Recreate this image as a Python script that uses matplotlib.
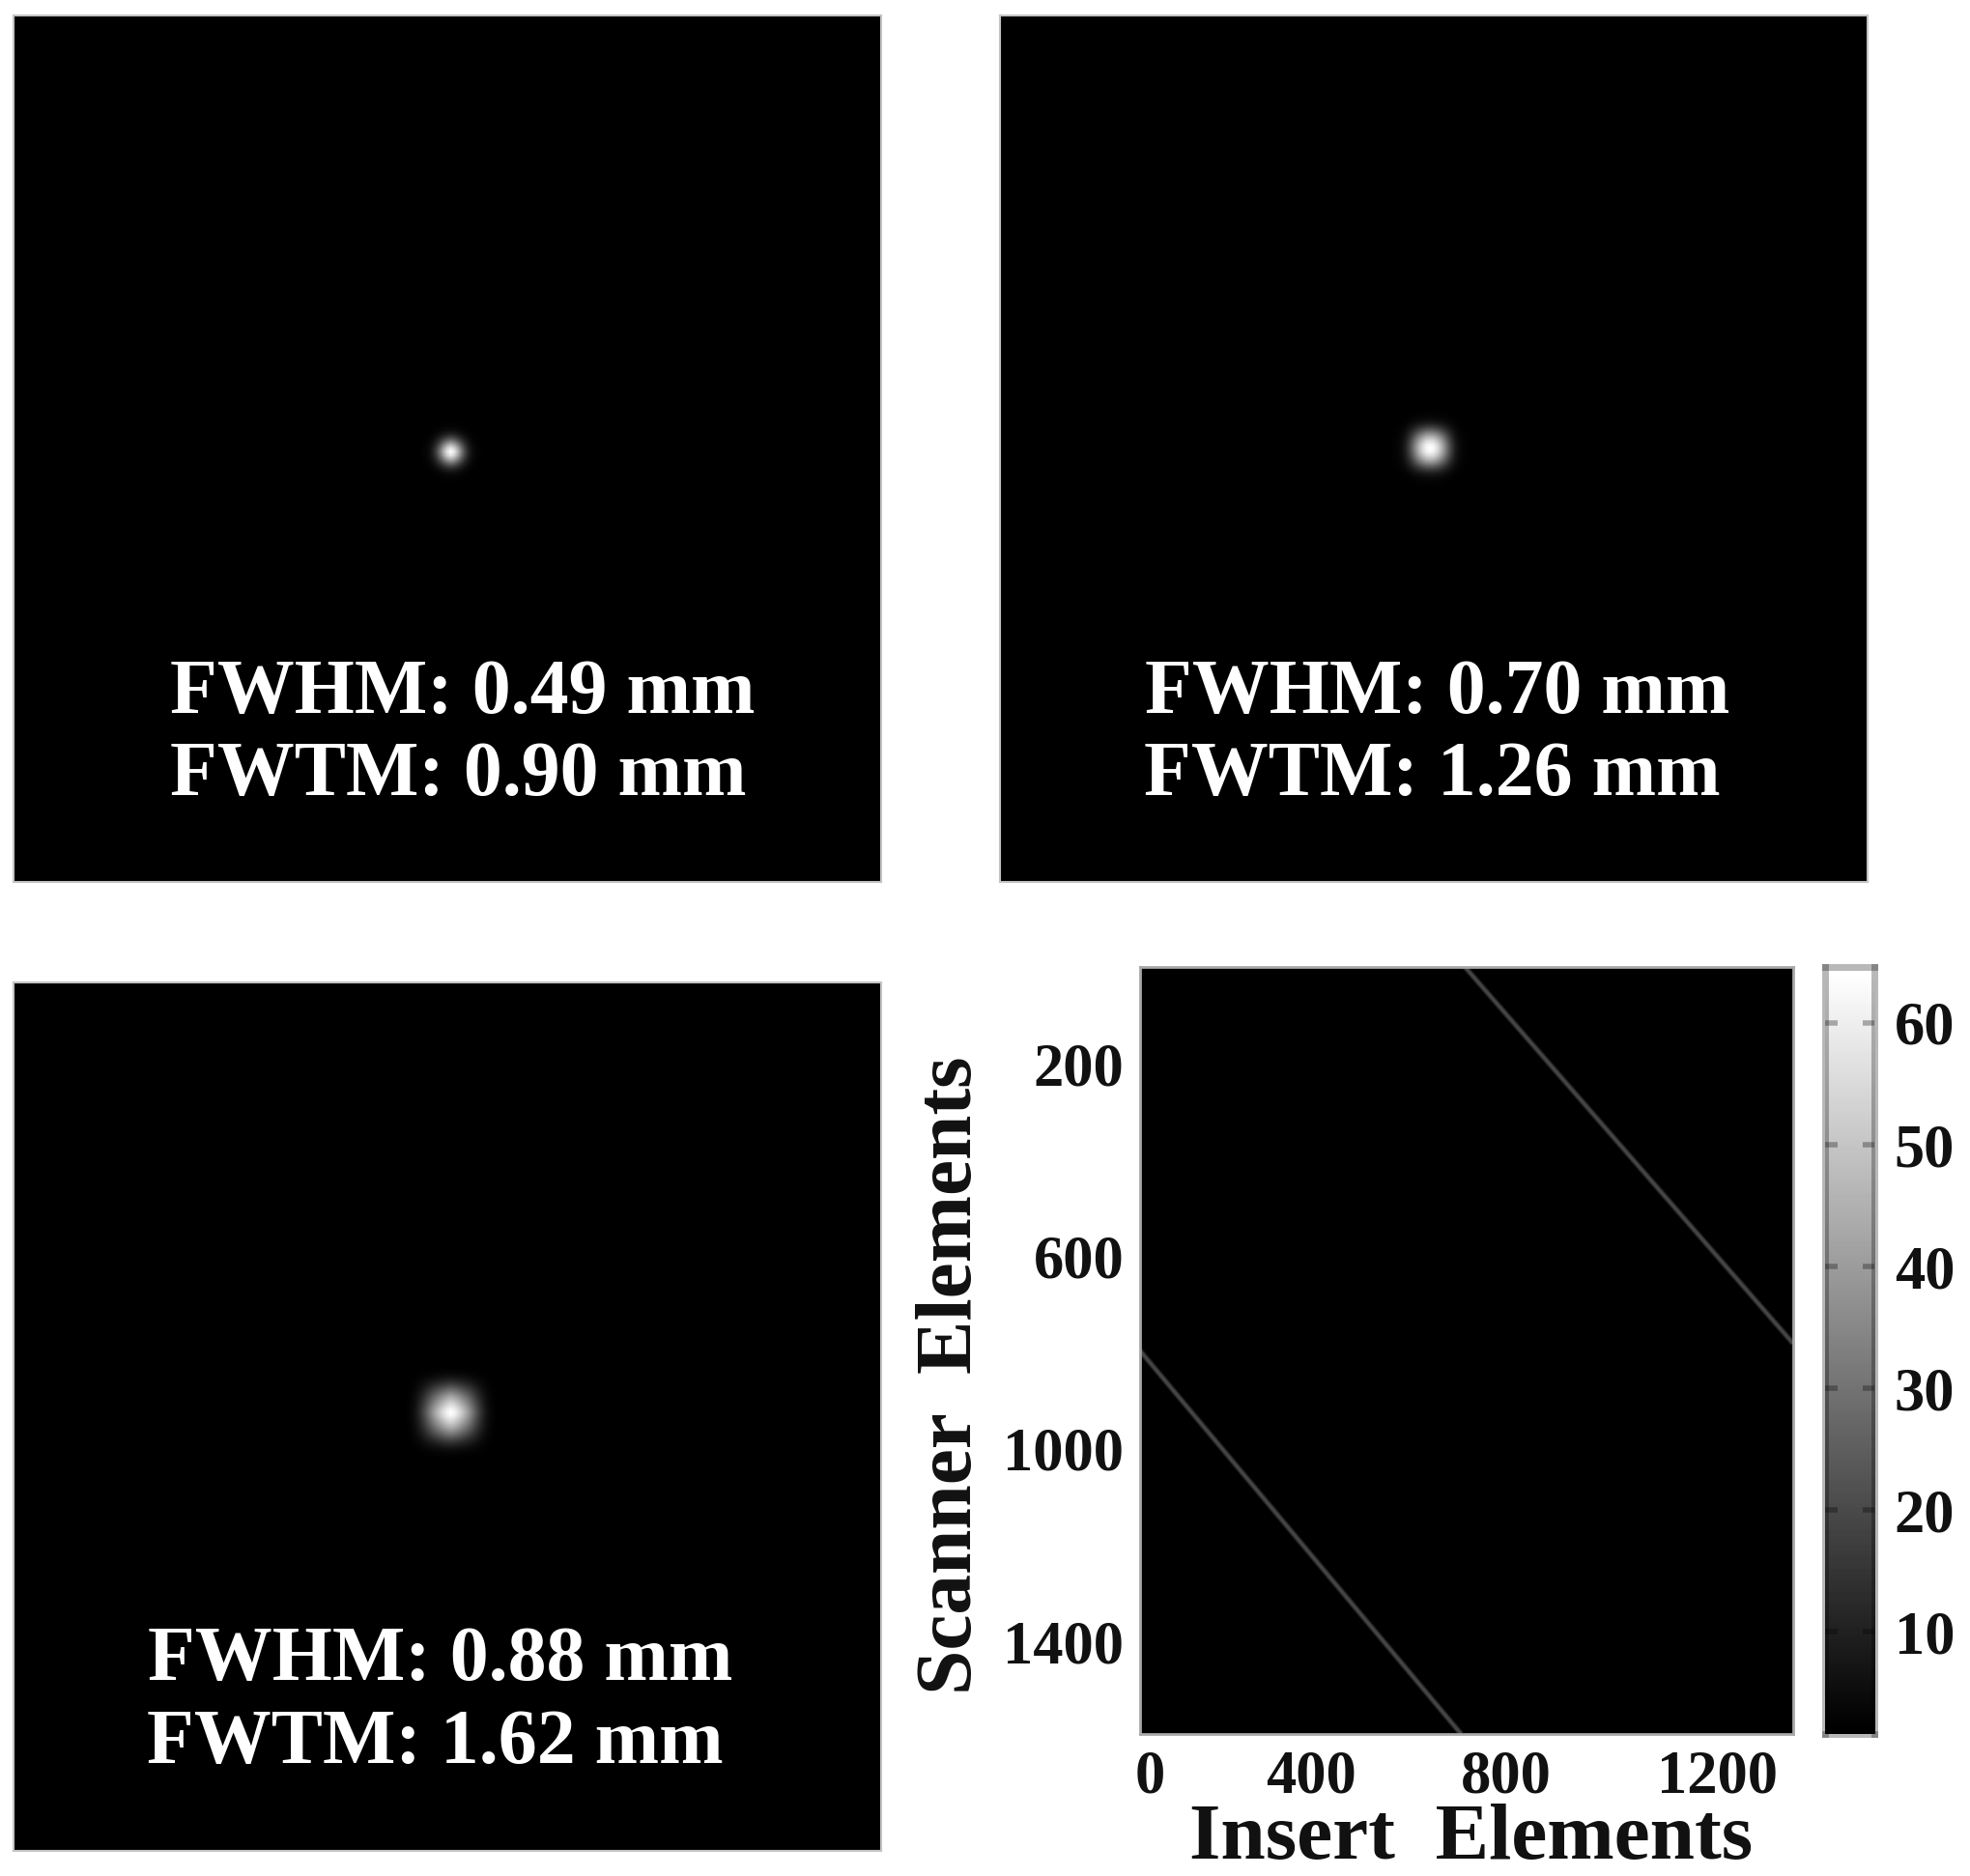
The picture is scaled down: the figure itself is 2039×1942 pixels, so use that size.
import numpy as np
import matplotlib
matplotlib.use("Agg")
import matplotlib.pyplot as plt

plt.rcParams['font.family'] = ['Liberation Serif', 'DejaVu Serif']
plt.rcParams['font.weight'] = 'bold'

# spot labels
fwhm_labels = ['FWHM: 0.49 mm', 'FWHM: 0.70 mm', 'FWHM: 0.88 mm']
fwtm_labels = ['FWTM: 0.90 mm', 'FWTM: 1.26 mm', 'FWTM: 1.62 mm']

# brightness of the spots along one image axis, by cell distance from centre
spot_profile_1 = [1.0, 0.90, 0.70, 0.47, 0.27, 0.13, 0.05, 0.02, 0.01]
spot_profile_2 = [1.0, 0.97, 0.87, 0.73, 0.56, 0.38, 0.23, 0.11, 0.05, 0.02, 0.01]
spot_profile_3 = [1.0, 0.96, 0.88, 0.79, 0.69, 0.58, 0.46, 0.34, 0.23, 0.14, 0.07, 0.03, 0.01]
spot_profiles = [spot_profile_1, spot_profile_2, spot_profile_3]

# sinogram lines (insert element, scanner element)
upper_line_x = [710, 1392]
upper_line_y = [-1, 781]
lower_line_x = [35, 702]
lower_line_y = [796, 1592]
line_level = 17

# the tick labels of the insert axis are not evenly placed in the picture
insert_ticks = [55, 390, 796, 1235]
insert_labels = ['0', '400', '800', '1200']
scanner_ticks = [200, 600, 1000, 1400]
cbar_ticks = [10, 20, 30, 40, 50, 60]

W, H = 2040, 1942
TEXT = '#111111'


def add_axes_px(left, top, right, bottom):
    return fig.add_axes([left / W, 1 - bottom / H, (right - left) / W, (bottom - top) / H])


def style_frame(ax, color='#c4c4c4', lw=1.5):
    for s in ax.spines.values():
        s.set_color(color)
        s.set_linewidth(lw)


fig = plt.figure(figsize=(W / 100, H / 100), dpi=100, facecolor='white')

# three point spread panels
panel_boxes = [(14, 16, 912, 913), (1035, 16, 1933, 913), (14, 1017, 912, 1916)]
spot_centres = [(121, 121), (119, 120), (121, 119)]
text_x = [(0.518, 0.513), (0.504, 0.498), (0.492, 0.486)]
text_y = [(0.195, 0.100), (0.195, 0.100), (0.197, 0.101)]
cells = 241

for i in range(3):
    ax = add_axes_px(*panel_boxes[i])
    profile = spot_profiles[i]
    cx, cy = spot_centres[i]
    img = np.zeros((cells, cells))
    for dy, vy in enumerate(profile):
        for dx, vx in enumerate(profile):
            for sy in (-1, 1):
                for sx in (-1, 1):
                    img[cy + sy * dy, cx + sx * dx] = vy * vx
    ax.imshow(img, cmap='gray', vmin=0, vmax=1, interpolation='bilinear', aspect='auto')
    ax.set_xticks([])
    ax.set_yticks([])
    style_frame(ax)
    ax.text(text_x[i][0], text_y[i][0], fwhm_labels[i], color='white', fontsize=57.5,
            ha='center', va='baseline', transform=ax.transAxes)
    ax.text(text_x[i][1], text_y[i][1], fwtm_labels[i], color='white', fontsize=57.5,
            ha='center', va='baseline', transform=ax.transAxes)

# sinogram panel
ax = add_axes_px(1180, 1001, 1856, 1795)
ax.set_facecolor('black')
gray = plt.get_cmap('gray')
for xs, ys in [(upper_line_x, upper_line_y), (lower_line_x, lower_line_y)]:
    ax.plot(xs, ys, color=gray(line_level / 64), lw=4.4, alpha=0.45, solid_capstyle='butt')
    ax.plot(xs, ys, color=gray(line_level / 64), lw=2.4, solid_capstyle='butt')
ax.set_xlim(35, 1392)
ax.set_ylim(1592, -1)
ax.set_xticks(insert_ticks)
ax.set_xticklabels(insert_labels)
ax.set_yticks(scanner_ticks)
ax.tick_params(length=0, labelsize=45, colors=TEXT, pad=12)
style_frame(ax, color='#a8a8a8', lw=2)
fig.text(1523 / W, 1 - 1924 / H, 'Insert  Elements', fontsize=60, color=TEXT,
         ha='center', va='baseline')
fig.text(1005 / W, 1 - 1424 / H, 'Scanner  Elements', fontsize=60, color=TEXT,
         rotation=90, rotation_mode='anchor', ha='center', va='baseline')

# colour bar
cax = add_axes_px(1889, 1001, 1940, 1795)
levels = np.arange(1, 65).reshape(-1, 1)
cax.imshow(levels, cmap='gray', vmin=1, vmax=64, aspect='auto', origin='lower',
           extent=[0, 1, 1.6, 64.6], interpolation='bilinear')
cax.set_xticks([])
cax.set_yticks(cbar_ticks)
cax.yaxis.tick_right()
cax.tick_params(axis='y', length=9, width=4, color=(0, 0, 0, 0.3), direction='in', left=True,
                right=True, labelleft=False, labelright=True, labelsize=45,
                labelcolor=TEXT, pad=15)
style_frame(cax, color=(0, 0, 0, 0.28), lw=5)

fig.savefig('out.png', dpi=100, facecolor='white')
